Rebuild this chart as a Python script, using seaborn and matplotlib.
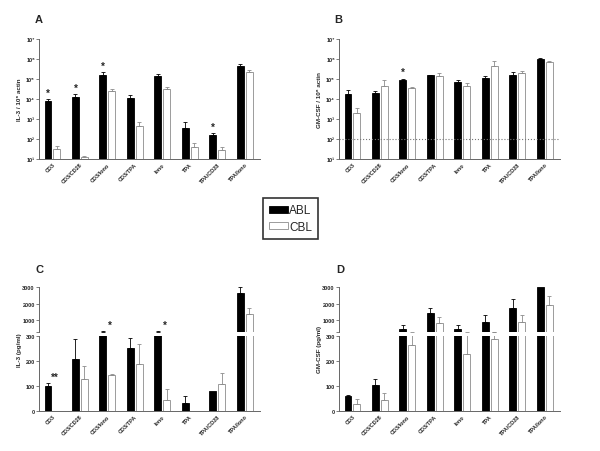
import matplotlib
matplotlib.use("Agg")
import matplotlib.pyplot as plt
from matplotlib.patches import Patch
from matplotlib.ticker import NullLocator
import pandas as pd
import seaborn as sns

# conditions and cell types
conditions = ["CD3", "CD3/CD28", "CD3/Iono", "CD3/TPA", "Iono", "TPA", "TPA/CD28", "TPA/Iono"]
cells = ["ABL", "CBL"]

# A: IL-3 mRNA per 10^6 actin (bar value, top of error bar)
a_abl = [7.6e3, 1.2e4, 1.65e5, 1.08e4, 1.36e5, 355, 165, 4.3e5]
a_abl_top = [1.0e4, 1.8e4, 2.2e5, 1.5e4, 1.85e5, 680, 193, 5.4e5]
a_cbl = [30, 12, 2.5e4, 450, 3.0e4, 38, 27, 2.15e5]
a_cbl_top = [45, 13.5, 3.2e4, 680, 3.8e4, 60, 38, 2.8e5]
a_stars = ["CD3", "CD3/CD28", "CD3/Iono", "TPA/CD28"]

# B: GM-CSF mRNA per 10^6 actin
b_abl = [1.7e4, 2.1e4, 9.0e4, 1.5e5, 6.8e4, 1.1e5, 1.65e5, 9.6e5]
b_abl_top = [2.9e4, 2.5e4, 1.0e5, 1.55e5, 9.3e4, 1.36e5, 2.3e5, 1.17e6]
b_cbl = [1.9e3, 4.3e4, 3.4e4, 1.36e5, 4.3e4, 4.3e5, 2.0e5, 6.8e5]
b_cbl_top = [3.4e3, 9.0e4, 4.2e4, 1.9e5, 6.0e4, 7.6e5, 2.4e5, 8.3e5]
b_stars = ["CD3/Iono"]
b_limit = 100

# C: IL-3 protein (pg/ml)
c_abl = [100, 207, 330, 253, 330, 33, 80, 2640]
c_abl_top = [113, 287, 350, 293, 350, 60, 80, 3000]
c_cbl = [1, 129, 143, 190, 45, 0, 108, 1400]
c_cbl_top = [1, 180, 148, 270, 89, 0, 153, 1740]
c_stars = {"CD3": "**", "CD3/Iono": "*", "Iono": "*"}

# D: GM-CSF protein (pg/ml)
d_abl = [60, 103, 500, 1440, 500, 900, 1740, 3000]
d_abl_top = [64, 127, 720, 1740, 700, 1300, 2280, 3000]
d_cbl = [27, 43, 263, 860, 227, 290, 900, 1940]
d_cbl_top = [49, 73, 320, 1180, 310, 310, 1320, 2460]

sns.set_style("ticks")
plt.rcParams["font.family"] = ["Liberation Sans", "DejaVu Sans"]
plt.rcParams["font.weight"] = "bold"

AXC = "#666666"
EDGE = {"ABL": "black", "CBL": "#8c8c8c"}
W = 600
H = 452


def box(x0, y_bottom, w, h):
    return [x0 / W, 1 - y_bottom / H, w / W, h / H]


def bars(ax, abl, cbl, abl_top, cbl_top, lo=None, hi=None):
    df = pd.DataFrame({"cond": conditions * 2,
                       "cell": ["ABL"] * 8 + ["CBL"] * 8,
                       "value": abl + cbl})
    sns.barplot(data=df, x="cond", y="value", hue="cell", order=conditions,
                hue_order=cells, palette={"ABL": "black", "CBL": "white"},
                width=0.65, gap=0.22, errorbar=None, legend=False, ax=ax)
    for cont, cell, vals, tops in zip(ax.containers, cells, [abl, cbl], [abl_top, cbl_top]):
        for bar, v, t in zip(cont, vals, tops):
            bar.set_edgecolor(EDGE[cell])
            bar.set_linewidth(0.6)
            if t <= v:
                continue
            if lo is not None and t <= lo:
                continue
            if hi is not None and t > hi:
                continue
            xc = bar.get_x() + bar.get_width() / 2
            ax.errorbar(xc, v, yerr=[[0], [t - v]], fmt="none", ecolor=EDGE[cell],
                        elinewidth=0.6, capsize=1.5, capthick=0.6)
    ax.set_xlim(-0.49, 7.55)
    ax.set_xlabel("")
    ax.set_ylabel("")
    sns.despine(ax=ax)
    for s in ["left", "bottom"]:
        ax.spines[s].set_color(AXC)
        ax.spines[s].set_linewidth(0.7)
    ax.tick_params(axis="y", length=2, width=0.6, color=AXC, labelsize=4, pad=1)
    ax.tick_params(axis="x", length=0, labelsize=4, pad=2)
    ax.set_xticks(range(len(conditions)))
    ax.set_xticklabels(conditions, rotation=45, ha="right", rotation_mode="anchor")


def black_x(ax, cond):
    bar = ax.containers[0][conditions.index(cond)]
    return bar.get_x() + bar.get_width() / 2


def log_panel(ax, abl, cbl, abl_top, cbl_top, ylabel):
    bars(ax, abl, cbl, abl_top, cbl_top)
    ax.set_yscale("log")
    ax.set_ylim(10, 1e7)
    ax.yaxis.set_minor_locator(NullLocator())
    sup = "¹²³⁴⁵⁶⁷"
    ax.set_yticks([10 ** k for k in range(1, 8)])
    ax.set_yticklabels(["10" + sup[k - 1] for k in range(1, 8)])
    ax.set_ylabel(ylabel, fontsize=4.5, fontweight="bold")
    ax.yaxis.set_label_coords(-0.075, 0.5)


def broken_panel(ax_top, ax_bot, abl, cbl, abl_top, cbl_top, ylabel):
    bars(ax_bot, abl, cbl, abl_top, cbl_top)
    bars(ax_top, abl, cbl, abl_top, cbl_top, lo=300)
    ax_bot.set_ylim(0, 300)
    ax_bot.set_yticks([0, 100, 200, 300])
    ax_top.set_ylim(300, 3000)
    ax_top.set_yticks([300, 1000, 2000, 3000])
    ax_top.set_yticklabels(["", "1000", "2000", "3000"])
    ax_top.spines["bottom"].set_visible(False)
    ax_top.set_xticks([])
    ax_bot.set_ylabel(ylabel, fontsize=4.5, fontweight="bold")
    ax_bot.yaxis.set_label_coords(-0.075, 0.83)


fig = plt.figure(figsize=(6, 4.52), dpi=100)

# A
ax_a = fig.add_axes(box(39, 160, 221, 120))
log_panel(ax_a, a_abl, a_cbl, a_abl_top, a_cbl_top, "IL-3 / 10⁶ actin")
for c in a_stars:
    i = conditions.index(c)
    ax_a.text(black_x(ax_a, c), a_abl_top[i] * 2.1, "*", ha="center", va="center", fontsize=7)

# B
ax_b = fig.add_axes(box(339, 160, 221, 120))
log_panel(ax_b, b_abl, b_cbl, b_abl_top, b_cbl_top, "GM-CSF / 10⁶ actin")
ax_b.axhline(b_limit, color="#777777", lw=0.8, ls=":")
for c in b_stars:
    i = conditions.index(c)
    ax_b.text(black_x(ax_b, c), b_abl_top[i] * 2.4, "*", ha="center", va="center", fontsize=7)

# C
ax_ct = fig.add_axes(box(39, 333, 221, 45))
ax_cb = fig.add_axes(box(39, 412, 221, 75))
broken_panel(ax_ct, ax_cb, c_abl, c_cbl, c_abl_top, c_cbl_top, "IL-3 (pg/ml)")
for c, s in c_stars.items():
    i = conditions.index(c)
    xs = black_x(ax_cb, c) + 0.26
    if c_abl_top[i] > 300:
        ax_ct.text(xs, c_abl_top[i] * 2, s, ha="center", va="center", fontsize=7)
    else:
        ax_cb.text(xs, c_abl_top[i] * 1.2, s, ha="center", va="center", fontsize=7)

# D
ax_dt = fig.add_axes(box(339, 333, 221, 45))
ax_db = fig.add_axes(box(339, 412, 221, 75))
broken_panel(ax_dt, ax_db, d_abl, d_cbl, d_abl_top, d_cbl_top, "GM-CSF (pg/ml)")

# panel letters
for x, y, lab in [(35, 23, "A"), (334, 23, "B"), (35, 273, "C"), (336, 273, "D")]:
    fig.text(x / W, 1 - y / H, lab, fontsize=8, fontweight="bold")

# legend
handles = [Patch(facecolor="black", edgecolor="black", lw=0.6),
           Patch(facecolor="white", edgecolor="#8c8c8c", lw=0.6)]
leg = fig.legend(handles, cells, loc="center", bbox_to_anchor=(290.5 / W, 1 - 219.5 / H),
                 frameon=True, fancybox=False, edgecolor="black",
                 prop={"weight": "normal", "size": 8.5},
                 handlelength=1.6, handleheight=0.6, handletextpad=0.1,
                 labelspacing=0.35, borderpad=0.55, borderaxespad=0)
leg.get_frame().set_linewidth(1.2)

fig.savefig("out.png", dpi=100)
